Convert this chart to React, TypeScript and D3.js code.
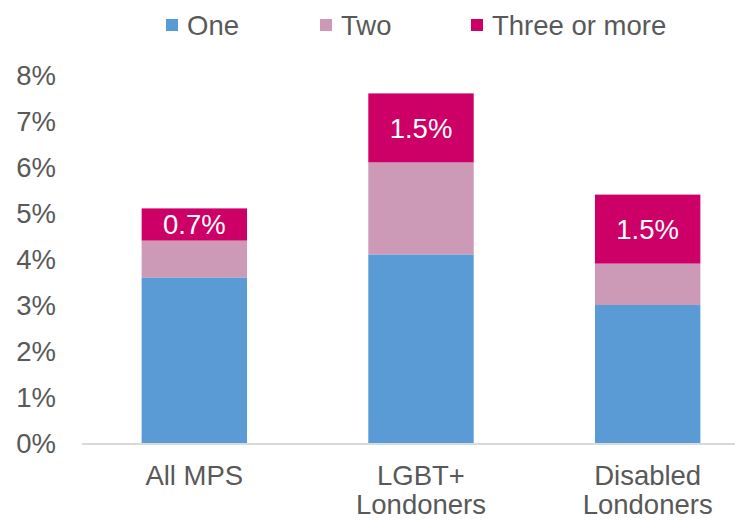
import React from "react";
import * as d3 from "d3";

const categories = [["All MPS"], ["LGBT+", "Londoners"], ["Disabled", "Londoners"]];
const seriesNames = ["One", "Two", "Three or more"];
const one = [3.6, 4.1, 3.0];
const two = [0.8, 2.0, 0.9];
const threePlus = [0.7, 1.5, 1.5];
const threeLabels = ["0.7%", "1.5%", "1.5%"];
const yTicks = [0, 1, 2, 3, 4, 5, 6, 7, 8];
const colors = ["#5B9BD5", "#CC99B6", "#CC0066"];

const W = 735;
const H = 520;
const FONT = "'Liberation Sans', Arial, sans-serif";
const TXT = "#595959";
const FS = 27.5;

export default function App() {
  const x = d3.scaleBand<number>().domain([0, 1, 2]).range([81, 761]).paddingInner(0.535).paddingOuter(0.2675);
  const y = d3.scaleLinear().domain([0, 8]).range([443, 75]);
  const rows = categories.map((_, i) => ({ i, one: one[i], two: two[i], three: threePlus[i] }));
  const stack = d3.stack<any>().keys(["one", "two", "three"])(rows);
  const legendX = [166, 320, 471];
  return (
    <svg
      width={W}
      height={H}
      style={{ display: "block", position: "absolute", left: 0, top: 0, fontFamily: FONT }}
    >
      <rect width={W} height={H} fill="#fff" />
      {yTicks.map((t) => (
        <text key={t} x={56} y={y(t)} dy="0.36em" textAnchor="end" fontSize={FS} fill={TXT}>
          {t}%
        </text>
      ))}
      {stack.map((s, si) =>
        s.map((d, i) => (
          <rect
            key={si + "-" + i}
            x={x(i)!}
            width={x.bandwidth()}
            y={y(d[1])}
            height={y(d[0]) - y(d[1])}
            fill={colors[si]}
          />
        ))
      )}
      {stack[2].map((d, i) => (
        <text
          key={"l" + i}
          x={x(i)! + x.bandwidth() / 2}
          y={(y(d[0]) + y(d[1])) / 2}
          dy="0.36em"
          textAnchor="middle"
          fontSize={FS}
          fill="#fff"
        >
          {threeLabels[i]}
        </text>
      ))}
      <line x1={82} x2={735} y1={y(0) + 1} y2={y(0) + 1} stroke="#D9D9D9" strokeWidth={2} />
      {categories.map((lines, i) => (
        <text key={"c" + i} x={x(i)! + x.bandwidth() / 2} y={485} textAnchor="middle" fontSize={FS} fill={TXT}>
          {lines.map((ln, k) => (
            <tspan key={k} x={x(i)! + x.bandwidth() / 2} dy={k === 0 ? 0 : 29}>
              {ln}
            </tspan>
          ))}
        </text>
      ))}
      {seriesNames.map((n, k) => (
        <g key={n}>
          <rect x={legendX[k]} y={19} width={12} height={12} fill={colors[k]} />
          <text x={legendX[k] + 21} y={35} fontSize={FS} fill={TXT}>
            {n}
          </text>
        </g>
      ))}
    </svg>
  );
}
